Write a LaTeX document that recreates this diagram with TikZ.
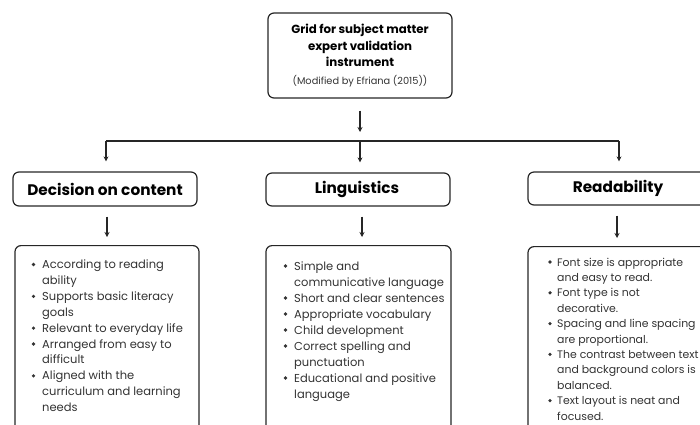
\documentclass[tikz,border=0pt]{standalone}
\usepackage{fontspec}
\setmainfont{Poppins}
\usetikzlibrary{arrows.meta}
\begin{document}
\begin{tikzpicture}[x=1pt,y=-1pt,
  box/.style={draw=black!85, line width=1.2pt, rounded corners=6pt, inner sep=0pt},
  arr/.style={-{Stealth[length=5pt,width=5pt]}, line width=1.1pt, draw=black!85},
  line/.style={line width=1.1pt, draw=black!85},
  head/.style={font=\bfseries\fontsize{15.3}{17}\selectfont, text=black, inner sep=0pt},
  body/.style={font=\fontsize{11.5}{16}\selectfont, text=black!80, inner sep=0pt, anchor=base west},
  smallbody/.style={body, font=\fontsize{10.9}{16}\selectfont},
  dot/.style={fill=black!80}]
\useasboundingbox (0,0) rectangle (700,424);
\clip (0,0) rectangle (700,424);
% top box
\node[box, minimum width=184pt, minimum height=85pt] (top) at (360,55.5) {};
\node[font=\bfseries\fontsize{11.8}{16.5}\selectfont, align=center, inner sep=0pt] (title) at (360,45.5)
  {Grid for subject matter\\expert validation\\instrument};
\node[font=\fontsize{9.8}{11}\selectfont, text=black!80, inner sep=0pt] (src) at (360,81)
  {(Modified by Efriana (2015))};
% junction
\coordinate (j) at (360,141);
\coordinate (jl) at (106,141);
\coordinate (jr) at (619,141);
\draw[arr, shorten <=12pt, shorten >=9pt] (top.south) -- (j);
\draw[line] (jl) -- (jr);
% second row
\node[box, minimum width=184pt, minimum height=34pt] (b1) at (105,189) {};
\node[box, minimum width=184pt, minimum height=33pt] (b2) at (358,189.5) {};
\node[box, minimum width=184pt, minimum height=33pt] (b3) at (620,188.5) {};
\node[head] (h1) at (105,189) {Decision on content};
\node[head] (h2) at (357,189) {Linguistics};
\node[head] (h3) at (618,188.5) {Readability};
\draw[arr, shorten >=10pt] (jl) -- (jl |- b1.north);
\draw[arr, shorten >=10pt] (j) -- (j |- b2.north);
\draw[arr, shorten >=10pt] (jr) -- (jr |- b3.north);
% third row
\node[box, minimum width=184pt, minimum height=200pt, anchor=north] (c1) at (107,245) {};
\node[box, minimum width=185pt, minimum height=200pt, anchor=north] (c2) at (358.5,245) {};
\node[box, minimum width=184pt, minimum height=200pt, anchor=north] (c3) at (620,246) {};
\draw[arr, shorten <=10pt, shorten >=8pt] (b1.south -| 107,0) -- (c1.north -| 107,0);
\draw[arr, shorten <=10pt, shorten >=8pt] (b2.south -| 362,0) -- (c2.north -| 362,0);
\draw[arr, shorten <=10pt, shorten >=8pt] (b3.south -| 617,0) -- (c3.north -| 617,0);
% lists
\foreach \k/\t [count=\i from 0] in {1/According to reading, 0/ability, 1/Supports basic literacy, 0/goals, 1/Relevant to everyday life, 1/Arranged from easy to, 0/difficult, 1/Aligned with the, 0/curriculum and learning, 0/needs}{
  \node[body] (l\i) at (42,268.5+15.9*\i) {\t};
  \ifnum\k=1 \fill[dot] (33.5,264.5+15.9*\i) circle (1.8pt); \fi
}
\foreach \k/\t [count=\i from 0] in {1/Simple and, 0/communicative language, 1/Short and clear sentences, 1/Appropriate vocabulary, 1/Child development, 1/Correct spelling and, 0/punctuation, 1/Educational and positive, 0/language}{
  \node[body] (m\i) at (294,270+16*\i) {\t};
  \ifnum\k=1 \fill[dot] (285.5,266+16*\i) circle (1.8pt); \fi
}
\foreach \k/\t [count=\i from 0] in {1/Font size is appropriate, 0/and easy to read., 1/Font type is not, 0/decorative., 1/Spacing and line spacing, 0/are proportional., 1/The contrast between text, 0/and background colors is, 0/balanced., 1/Text layout is neat and, 0/focused.}{
  \node[smallbody] (r\i) at (557,266+15.4*\i) {\t};
  \ifnum\k=1 \fill[dot] (550,262+15.4*\i) circle (1.8pt); \fi
}
\end{tikzpicture}
\end{document}
